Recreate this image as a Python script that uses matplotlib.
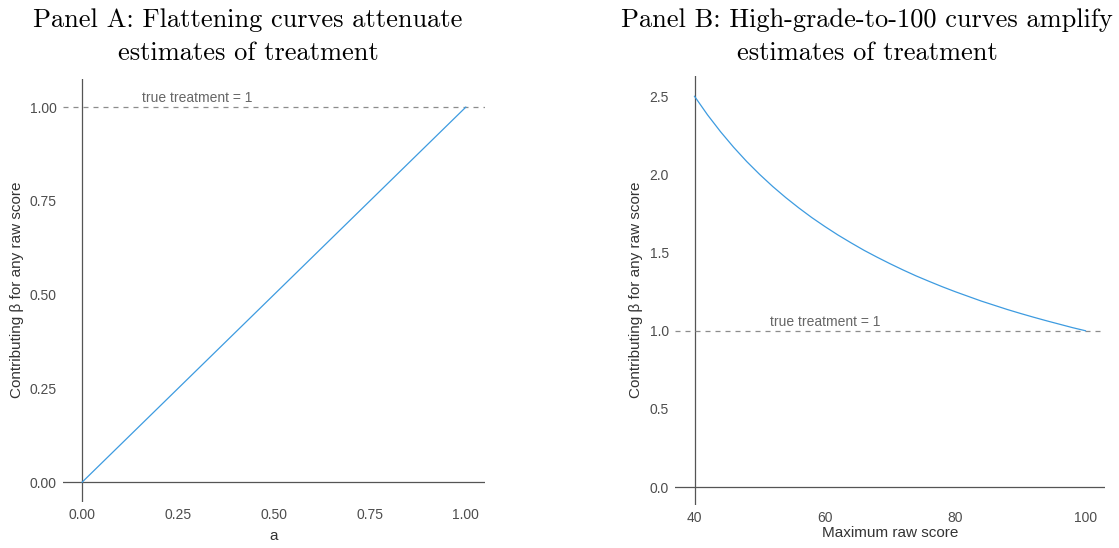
import matplotlib
matplotlib.use("Agg")
import matplotlib.pyplot as plt

# ---- data ----
a_vals = [0.0, 1.0]
beta_a = [0.0, 1.0]
a_ticks = [0.0, 0.25, 0.5, 0.75, 1.0]
a_yticks = [0.0, 0.25, 0.5, 0.75, 1.0]

max_score = [40, 42, 44, 46, 48, 50, 52, 54, 56, 58, 60, 62, 64, 66, 68, 70,
             72, 74, 76, 78, 80, 82, 84, 86, 88, 90, 92, 94, 96, 98, 100]
beta_b = [2.5, 2.381, 2.273, 2.174, 2.083, 2.0, 1.923, 1.852, 1.786, 1.724,
          1.667, 1.613, 1.563, 1.515, 1.471, 1.429, 1.389, 1.351, 1.316, 1.282,
          1.25, 1.22, 1.19, 1.163, 1.136, 1.111, 1.087, 1.064, 1.042, 1.02, 1.0]
b_xticks = [40, 60, 80, 100]
b_yticks = [0.0, 0.5, 1.0, 1.5, 2.0, 2.5]

true_treatment = 1.0
title_a = ["Panel A: Flattening curves attenuate", "estimates of treatment"]
title_b = ["Panel B: High-grade-to-100 curves amplify", "estimates of treatment"]
ylabel = "Contributing \u03b2 for any raw score"
xlabel_a = "a"
xlabel_b = "Maximum raw score"
annot = "true treatment = 1"

plt.rcParams['font.family'] = ['Liberation Sans', 'DejaVu Sans']

W, H = 1119, 548
fig = plt.figure(figsize=(W / 100, H / 100), dpi=100)

def px_rect(l, r, t, b):
    return [l / W, (H - b) / H, (r - l) / W, (b - t) / H]

axA = fig.add_axes(px_rect(63, 485, 79, 502))
axB = fig.add_axes(px_rect(675, 1105, 76, 505))

line_col = '#3d9be0'
axis_col = '#555555'
dash_col = '#8c8c8c'
tick_col = '#4d4d4d'

def style(ax, xlim, ylim, x0, xt, yt, xfmt, yfmt):
    ax.set_xlim(*xlim)
    ax.set_ylim(*ylim)
    for s in ax.spines.values():
        s.set_visible(False)
    ax.axvline(x0, color=axis_col, lw=0.9, zorder=1)
    ax.axhline(0, color=axis_col, lw=0.9, zorder=1)
    ax.set_xticks(xt)
    ax.set_xticklabels([xfmt.format(v) for v in xt])
    ax.set_yticks(yt)
    ax.set_yticklabels([yfmt.format(v) for v in yt])
    ax.tick_params(length=0, pad=4.5, labelsize=10, labelcolor=tick_col)
    ax.set_facecolor('white')

style(axA, (-0.05, 1.05), (-0.053, 1.075), 0.0, a_ticks, a_yticks, "{:.2f}", "{:.2f}")
style(axB, (37, 103), (-0.115, 2.63), 40, b_xticks, b_yticks, "{:d}", "{:.1f}")

axA.axhline(true_treatment, color=dash_col, lw=0.9, ls=(0, (4, 4)), zorder=1)
axB.axhline(true_treatment, color=dash_col, lw=0.9, ls=(0, (4, 4)), zorder=1)

axA.plot(a_vals, beta_a, color=line_col, lw=0.9, zorder=3)
axB.plot(max_score, beta_b, color=line_col, lw=0.9, zorder=3)

axA.annotate(annot, (0.30, true_treatment), xytext=(0, 1.5), textcoords='offset points',
             ha='center', va='bottom', fontsize=10, color='#666666')
axB.annotate(annot, (60, true_treatment), xytext=(0, 1.5), textcoords='offset points',
             ha='center', va='bottom', fontsize=10, color='#666666')

# axis labels
def ftext(x, y, s, **kw):
    fig.text(x / W, 1 - y / H, s, **kw)

ftext(274, 536, xlabel_a, ha='center', va='center', fontsize=11, color='#333333')
ftext(890, 533, xlabel_b, ha='center', va='center', fontsize=11, color='#333333')
ftext(17, 290, ylabel, ha='center', va='center', rotation=90, fontsize=11, color='#333333')
ftext(636, 290, ylabel, ha='center', va='center', rotation=90, fontsize=11, color='#333333')

# titles
tkw = dict(ha='center', va='baseline', fontsize=19, color='black', family='cmr10')
ftext(248, 27, title_a[0], **tkw)
ftext(248, 60, title_a[1], **tkw)
ftext(867, 27, title_b[0], **tkw)
ftext(867, 60, title_b[1], **tkw)

fig.savefig("out.png", dpi=100, facecolor='white')
